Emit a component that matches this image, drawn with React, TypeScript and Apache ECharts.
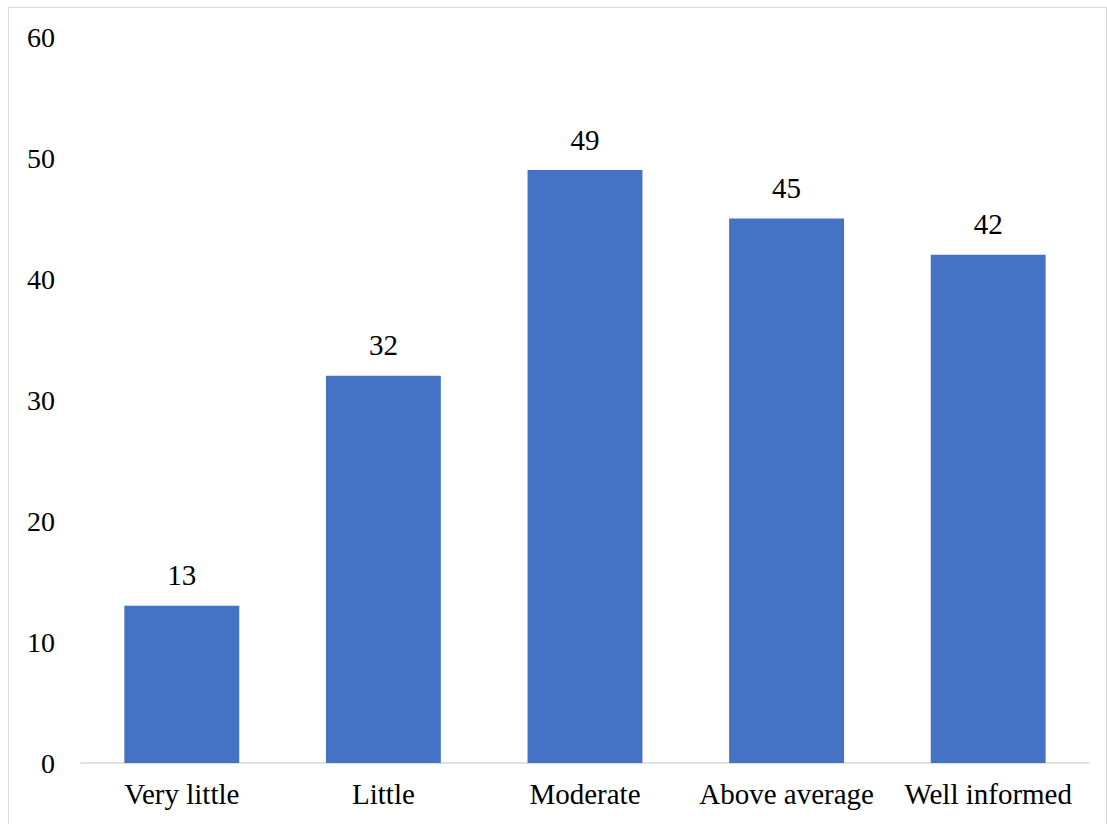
import React, { useEffect, useRef } from "react";
import * as echarts from "echarts";

const categories = ["Very little", "Little", "Moderate", "Above average", "Well informed"];
const values = [13, 32, 49, 45, 42];
const yTicks = { min: 0, max: 60, interval: 10 };

const SERIF = "'Liberation Serif', 'Times New Roman', serif";

export default function App() {
  const ref = useRef<HTMLDivElement>(null);

  useEffect(() => {
    document.body.style.overflow = "hidden";
    const chart = echarts.init(ref.current!, null, { renderer: "svg" });
    chart.setOption({
      animation: false,
      textStyle: { fontFamily: SERIF },
      grid: { left: 81, right: 18, top: 37, bottom: 61, containLabel: false },
      xAxis: {
        type: "category",
        data: categories,
        axisLine: { show: true, lineStyle: { color: "#d9d9d9", width: 1.5 } },
        axisTick: { show: false },
        axisLabel: { color: "#000", fontSize: 29, margin: 16, interval: 0, fontFamily: SERIF },
      },
      yAxis: {
        type: "value",
        min: yTicks.min,
        max: yTicks.max,
        interval: yTicks.interval,
        axisLine: { show: false },
        axisTick: { show: false },
        splitLine: { show: false },
        axisLabel: { color: "#000", fontSize: 28, margin: 26, fontFamily: SERIF },
      },
      series: [
        {
          type: "bar",
          data: values,
          barCategoryGap: "43%",
          itemStyle: { color: "#4472c4" },
          label: {
            show: true,
            position: "top",
            distance: 16,
            color: "#000",
            fontSize: 29,
            fontFamily: SERIF,
          },
        },
      ],
    });
    return () => chart.dispose();
  }, []);

  return (
    <div style={{ position: "fixed", left: 0, top: 0, width: 1107, height: 824, overflow: "hidden", background: "#fff" }}>
      <div
        style={{
          position: "absolute",
          left: 8,
          top: 7,
          width: 1099,
          height: 900,
          border: "1px solid #d9d9d9",
          boxSizing: "border-box",
        }}
      />
      <div ref={ref} style={{ position: "absolute", left: 0, top: 0, width: 1107, height: 824 }} />
    </div>
  );
}
